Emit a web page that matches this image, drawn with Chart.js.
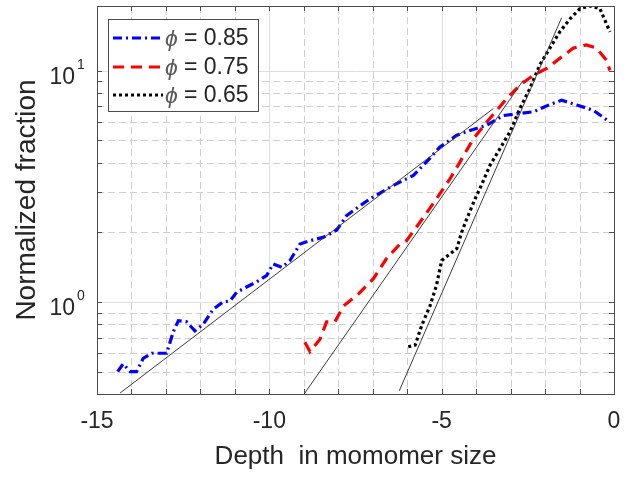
<!DOCTYPE html>
<html>
<head>
<meta charset="utf-8">
<script src="https://cdn.jsdelivr.net/npm/chart.js@4.4.0/dist/chart.umd.min.js"></script>
<style>
  html, body { margin: 0; padding: 0; background: #fff; }
  #wrap { width: 640px; height: 478px; }
</style>
</head>
<body>
<div id="wrap"><canvas id="depthChart" width="640" height="478"></canvas></div>
<script>
// phi = 0.85
const xBlue = [-14.40, -14.24, -14.04, -13.85, -13.66, -13.41, -13.17, -12.98, -12.79, -12.64, -12.40, -12.16, -11.92, -11.63, -11.34, -11.14, -10.95, -10.66, -10.37, -10.08, -9.89, -9.64, -9.40, -9.11, -8.82, -8.44, -8.05, -7.76, -7.42, -7.08, -6.40, -5.82, -5.44, -5.05, -4.56, -4.18, -3.69, -3.21, -2.82, -2.34, -1.86, -1.52, -1.08, -0.60, -0.12];
const yBlue = [0.50, 0.54, 0.50, 0.50, 0.57, 0.60, 0.60, 0.60, 0.74, 0.83, 0.82, 0.75, 0.80, 0.93, 1.00, 1.01, 1.10, 1.16, 1.22, 1.30, 1.46, 1.41, 1.51, 1.78, 1.84, 1.90, 2.04, 2.36, 2.57, 2.79, 3.19, 3.52, 4.03, 4.67, 5.25, 5.51, 5.80, 6.39, 6.50, 6.63, 7.13, 7.44, 7.10, 6.73, 5.98];

// phi = 0.75
const xRed = [-8.97, -8.82, -8.53, -8.34, -8.10, -7.85, -7.42, -6.98, -6.60, -6.21, -6.02, -5.63, -5.15, -4.76, -4.47, -4.08, -3.69, -3.11, -2.73, -2.34, -1.95, -1.57, -1.18, -0.80, -0.51, -0.22, -0.12];
const yRed = [0.67, 0.61, 0.69, 0.82, 0.82, 0.96, 1.08, 1.26, 1.54, 1.78, 1.84, 2.21, 2.79, 3.40, 4.02, 5.07, 5.99, 7.56, 8.64, 9.54, 10.2, 11.3, 12.5, 12.9, 12.5, 11.1, 10.0];

// phi = 0.65
const xBlack = [-5.97, -5.77, -5.58, -5.34, -5.15, -5.00, -4.81, -4.56, -4.42, -4.27, -4.03, -3.89, -3.60, -3.31, -3.02, -2.73, -2.44, -2.15, -1.86, -1.57, -1.28, -0.99, -0.70, -0.41, -0.12];
const yBlack = [0.64, 0.65, 0.79, 0.96, 1.18, 1.51, 1.59, 1.70, 2.00, 2.29, 2.79, 3.09, 3.89, 4.59, 5.43, 6.85, 8.36, 10.6, 12.5, 14.7, 16.7, 18.5, 19.0, 18.5, 14.7];

// thin exponential fits (end points)
const fitX85 = [-14.33, -3.50];
const fitY85 = [0.404, 6.85];
const fitX75 = [-8.97, -2.63];
const fitY75 = [0.404, 9.08];
const fitX65 = [-6.23, -1.52];
const fitY65 = [0.413, 16.9];

const phiLabels = ['0.85', '0.75', '0.65'];
const xTickValues = [-15, -10, -5, 0];
const yMajor = [1, 10];
const yExponent = ['0', '1'];
const yMinor = [0.5, 0.6, 0.7, 0.8, 0.9, 2, 3, 4, 5, 6, 7, 8, 9];

const FONT = '"Liberation Sans", Arial, Helvetica, sans-serif';
const TXT = '#262626';

function pts(xs, ys) {
    return xs.map(function (x, i) { return { x: x, y: ys[i] }; });
}

function seg(ctx, x1, y1, x2, y2) {
    ctx.beginPath();
    ctx.moveTo(x1, y1);
    ctx.lineTo(x2, y2);
    ctx.stroke();
}

const styles = [
    { color: '#0000ff', dash: [9, 4, 2, 4] },
    { color: '#ff0000', dash: [11, 7] },
    { color: '#000000', dash: [3, 3] }
];

const matlabAxes = {
    id: 'matlabAxes',
    beforeDatasetsDraw(chart) {
        const ctx = chart.ctx;
        const a = chart.chartArea;
        const xs = chart.scales.x, ys = chart.scales.y;
        ctx.save();
        ctx.lineWidth = 1;
        for (let v = -14; v <= -1; v++) {
            const px = Math.round(xs.getPixelForValue(v)) + 0.5;
            const major = v % 5 === 0;
            ctx.strokeStyle = major ? '#dedede' : '#cfcfcf';
            ctx.setLineDash(major ? [] : [7, 4]);
            seg(ctx, px, a.top, px, a.bottom);
        }
        yMinor.concat(yMajor).forEach(function (v) {
            const py = Math.round(ys.getPixelForValue(v)) + 0.5;
            const major = yMajor.indexOf(v) >= 0;
            ctx.strokeStyle = major ? '#dedede' : '#cfcfcf';
            ctx.setLineDash(major ? [] : [7, 4]);
            seg(ctx, a.left, py, a.right, py);
        });
        ctx.restore();
    },
    afterDraw(chart) {
        const ctx = chart.ctx;
        const a = chart.chartArea;
        const xs = chart.scales.x, ys = chart.scales.y;
        ctx.save();
        // box
        ctx.strokeStyle = '#4d4d4d';
        ctx.lineWidth = 1;
        ctx.setLineDash([]);
        ctx.strokeRect(Math.round(a.left) + 0.5, Math.round(a.top) + 0.5,
            Math.round(a.right - a.left), Math.round(a.bottom - a.top));
        // ticks
        for (let v = -14; v <= -1; v++) {
            const px = Math.round(xs.getPixelForValue(v)) + 0.5;
            seg(ctx, px, a.bottom, px, a.bottom - 5);
            seg(ctx, px, a.top, px, a.top + 5);
        }
        yMinor.concat(yMajor).forEach(function (v) {
            const py = Math.round(ys.getPixelForValue(v)) + 0.5;
            seg(ctx, a.left, py, a.left + 5, py);
            seg(ctx, a.right, py, a.right - 5, py);
        });
        // y tick labels 10^n
        ctx.fillStyle = TXT;
        yMajor.forEach(function (v, i) {
            const py = ys.getPixelForValue(v);
            ctx.font = '23px ' + FONT;
            ctx.textAlign = 'right';
            ctx.textBaseline = 'alphabetic';
            ctx.fillText('10', 75, py + 13);
            ctx.font = '14px ' + FONT;
            ctx.textAlign = 'left';
            ctx.fillText(yExponent[i], 77, py - 2);
        });
        // legend
        const lx = 108, ly = 19, lw = 150, lh = 92;
        ctx.fillStyle = '#ffffff';
        ctx.fillRect(lx, ly, lw, lh);
        ctx.strokeStyle = '#4d4d4d';
        ctx.strokeRect(lx + 0.5, ly + 0.5, lw, lh);
        const rows = [38, 67, 95];
        phiLabels.forEach(function (lab, i) {
            const cy = rows[i];
            ctx.strokeStyle = styles[i].color;
            ctx.lineWidth = 3;
            ctx.setLineDash(styles[i].dash);
            seg(ctx, 113, cy, 163, cy);
            ctx.setLineDash([]);
            ctx.textAlign = 'left';
            ctx.textBaseline = 'middle';
            ctx.fillStyle = '#5a5a5a';
            ctx.font = 'italic 23px ' + FONT;
            ctx.fillText('\u03d5', 165, cy + 2);
            ctx.fillStyle = TXT;
            ctx.font = '23px ' + FONT;
            ctx.fillText('= ' + lab, 184, cy + 1);
        });
        ctx.restore();
    }
};

function mainSet(xs, ys, i) {
    return {
        data: pts(xs, ys),
        borderColor: styles[i].color,
        borderWidth: 3.2,
        borderDash: styles[i].dash,
        pointRadius: 0,
        tension: 0,
        fill: false
    };
}

function fitSet(xs, ys) {
    return {
        data: pts(xs, ys),
        borderColor: '#3c3c3c',
        borderWidth: 1,
        pointRadius: 0,
        tension: 0,
        fill: false
    };
}

let ctx = document.getElementById('depthChart').getContext('2d');

let myChart = new Chart(ctx, {
    type: 'line',
    data: {
        datasets: [
            fitSet(fitX85, fitY85),
            fitSet(fitX75, fitY75),
            fitSet(fitX65, fitY65),
            mainSet(xBlue, yBlue, 0),
            mainSet(xRed, yRed, 1),
            mainSet(xBlack, yBlack, 2)
        ]
    },
    options: {
        responsive: false,
        animation: false,
        devicePixelRatio: 1,
        layout: { padding: { top: 6, right: 26, left: 0, bottom: 0 } },
        plugins: { legend: { display: false }, tooltip: { enabled: false } },
        scales: {
            x: {
                type: 'linear',
                min: -15,
                max: 0,
                afterBuildTicks: function (scale) {
                    scale.ticks = xTickValues.map(function (v) { return { value: v }; });
                },
                afterFit: function (scale) { scale.height = 84; },
                grid: { display: false, drawTicks: false },
                border: { display: false },
                ticks: { color: TXT, padding: 14, maxRotation: 0, font: { family: FONT, size: 23 } },
                title: {
                    display: true,
                    text: 'Depth  in momomer size',
                    color: TXT,
                    font: { family: FONT, size: 26 },
                    padding: { top: 0, bottom: 6 }
                }
            },
            y: {
                type: 'logarithmic',
                min: 0.4,
                max: 19,
                afterFit: function (scale) { scale.width = 97; },
                grid: { display: false, drawTicks: false },
                border: { display: false },
                ticks: { display: false },
                title: {
                    display: true,
                    text: 'Normalized fraction',
                    color: TXT,
                    font: { family: FONT, size: 28 },
                    padding: { top: 10, bottom: 0 }
                }
            }
        }
    },
    plugins: [matlabAxes]
});
</script>
</body>
</html>
